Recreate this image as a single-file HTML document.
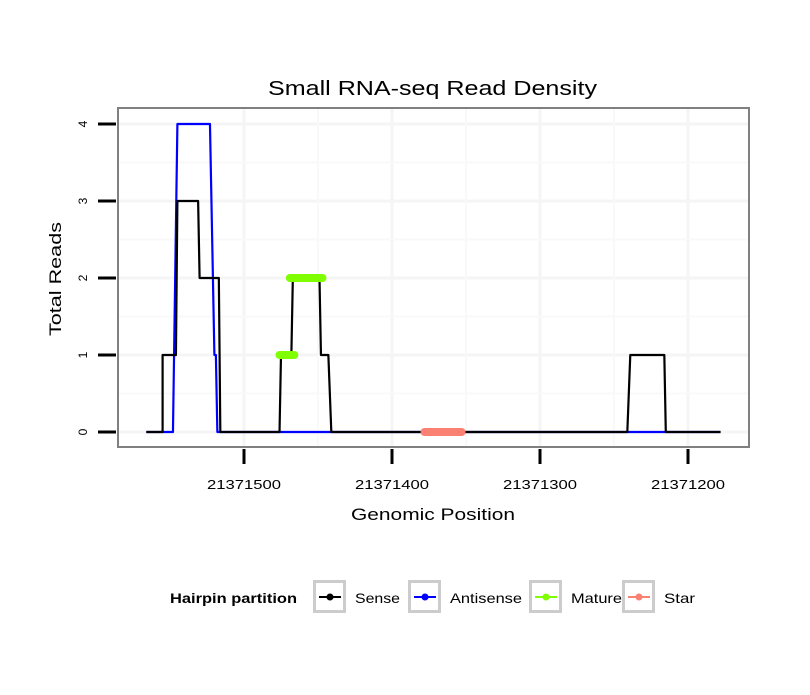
<!DOCTYPE html>
<html><head><meta charset="utf-8"><style>
body{margin:0;background:#fff}
svg text{font-family:"Liberation Sans",sans-serif}
</style></head><body>
<svg id="chart" width="810" height="690" xmlns="http://www.w3.org/2000/svg">
<rect width="810" height="690" fill="#fff"/>
<text x="268" y="95" font-size="20" textLength="329" lengthAdjust="spacingAndGlyphs">Small RNA-seq Read Density</text>
<g id="grid"></g>
<g id="series"></g>
<rect x="118" y="108" width="631" height="339" fill="none" stroke="#808080" stroke-width="2"/>
<g id="axes"></g>
<text x="351" y="520" font-size="17" textLength="164" lengthAdjust="spacingAndGlyphs">Genomic Position</text>
<text transform="translate(61,336) rotate(-90)" font-size="17" textLength="114" lengthAdjust="spacingAndGlyphs">Total Reads</text>
<g id="legend">
<text x="170" y="603" font-size="14" font-weight="bold" textLength="127" lengthAdjust="spacingAndGlyphs">Hairpin partition</text>
</g>
</svg>
<script>
const xTicks=[21371500,21371400,21371300,21371200];
const yTicks=[0,1,2,3,4];
const senseX=[21371566,21371555,21371555,21371546,21371545,21371531,21371530,21371517,21371516,21371476,21371475,21371468,21371467,21371449,21371448,21371443,21371441,21371241,21371239,21371216,21371215,21371178];
const senseY=[0,0,1,1,3,3,2,2,0,0,1,1,2,2,1,1,0,0,1,1,0,0];
const antiX=[21371566,21371548,21371545,21371523,21371520,21371519,21371518,21371178];
const antiY=[0,0,4,4,1,1,0,0];
const matureX=[[21371476,21371466],[21371469,21371447]];
const matureY=[1,2];
const starX=[[21371378,21371353]];
const starY=[0];
const legendLabels=["Sense","Antisense","Mature","Star"];
const legendColors=["#000000","#0000ff","#7fff00","#fa8072"];
const legendWidths=[45,72,51,31];

const NS="http://www.w3.org/2000/svg";
const X=v=>244+(21371500-v)*1.48;
const Y=v=>432-v*77;
function mk(tag,attrs,parent){const e=document.createElementNS(NS,tag);for(const k in attrs)e.setAttribute(k,attrs[k]);parent.appendChild(e);return e;}
const grid=document.getElementById('grid'),series=document.getElementById('series'),axes=document.getElementById('axes'),legend=document.getElementById('legend');
for(let i=0;i<xTicks.length;i++){
 const x=X(xTicks[i]);
 const g=mk('line',{x1:x,x2:x,y1:108,y2:447,stroke:'#f5f5f5','stroke-width':3},grid);
 
 
 const t=mk('line',{x1:x,x2:x,y1:449,y2:464,stroke:'#000','stroke-width':3},axes);
 
 
 const l=mk('text',{x:x-37,y:489,'font-size':13,textLength:74,lengthAdjust:'spacingAndGlyphs'},axes);
 l.textContent=xTicks[i];
 
 
}
for(let i=0;i<yTicks.length;i++){
 const y=Y(yTicks[i]);
 const g=mk('line',{x1:118,x2:749,y1:y,y2:y,stroke:'#f5f5f5','stroke-width':3},grid);
 
 
 if(i<yTicks.length-1){const ym=Y(yTicks[i]+0.5);
 const m=mk('line',{x1:118,x2:749,y1:ym,y2:ym,stroke:'#f9f9f9','stroke-width':2},grid);
 
 }
 const t=mk('line',{x1:98,x2:116,y1:y,y2:y,stroke:'#000','stroke-width':3},axes);
 
 
 const l=mk('text',{transform:`translate(87,${y}) rotate(-90)`,'font-size':12,'text-anchor':'middle'},axes);
 l.textContent=yTicks[i];
 
 
}
for(let i=0;i<xTicks.length-1;i++){
 const xm=X((xTicks[i]+xTicks[i+1])/2);
 const m=mk('line',{x1:xm,x2:xm,y1:108,y2:447,stroke:'#f9f9f9','stroke-width':2},grid);
 
 
}
function line(xs,ys,color,name){
 const pts=xs.map((v,i)=>X(v)+','+Y(ys[i])).join(' ');
 const p=mk('polyline',{points:pts,fill:'none',stroke:color,'stroke-width':2.2,'stroke-linejoin':'round'},series);
 
 
}
line(antiX,antiY,'#0000ff','antisense-line');
line(senseX,senseY,'#000000','sense-line');
function segs(xs,ys,color,name){
 xs.forEach((s,i)=>{
  const p=mk('line',{x1:X(s[0]),x2:X(s[1]),y1:Y(ys[i]),y2:Y(ys[i]),stroke:color,'stroke-width':8,'stroke-linecap':'round'},series);
  
  
 });
}
segs(matureX,matureY,'#7fff00','mature-segment');
segs(starX,starY,'#fa8072','star-segment');
const boxX=[313,408,529,622];
legendLabels.forEach((lab,i)=>{
 const bx=boxX[i];
 const r=mk('rect',{x:bx+1.5,y:581.5,width:30,height:30,fill:'#fff',stroke:'#cccccc','stroke-width':3},legend);
 
 
 mk('line',{x1:bx+6,x2:bx+28,y1:597,y2:597,stroke:legendColors[i],'stroke-width':2},legend);
 mk('circle',{cx:bx+17,cy:597,r:3.5,fill:legendColors[i]},legend);
 const t=mk('text',{x:bx+42,y:603,'font-size':14,textLength:legendWidths[i],lengthAdjust:'spacingAndGlyphs'},legend);
 t.textContent=lab;
 
 
});
</script>
</body></html>
